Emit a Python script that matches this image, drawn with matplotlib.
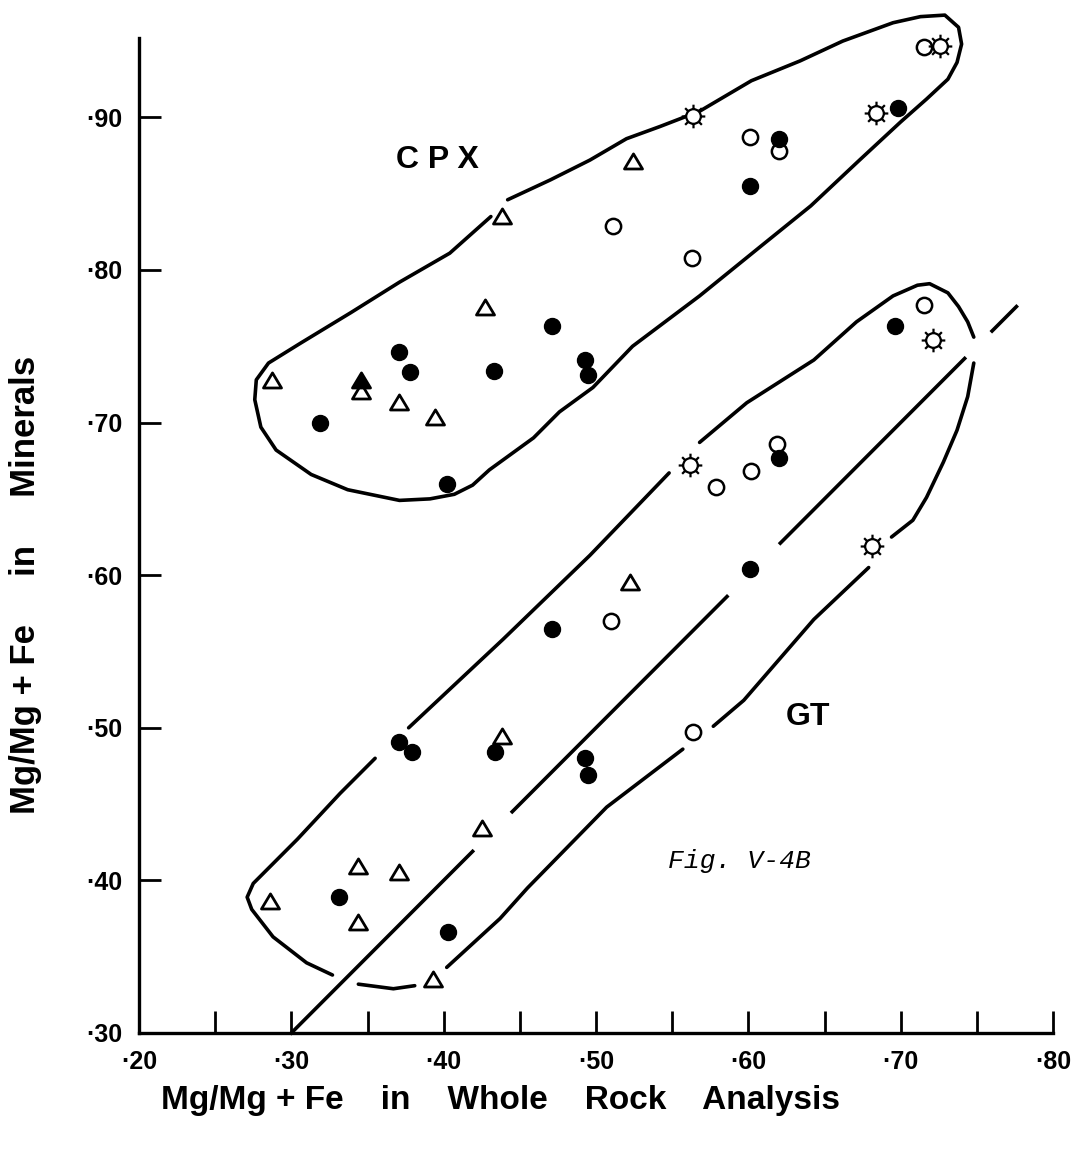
import numpy as np
import matplotlib.pyplot as plt
from matplotlib.path import Path

plt.rcParams['font.family'] = ['Liberation Sans', 'DejaVu Sans']

# Mg/(Mg+Fe): whole rock (x) against the mineral (y)
# clinopyroxene
cpx_tri_x = [.287, .346, .371, .394, .427, .438, .524]
cpx_tri_y = [.727, .720, .713, .703, .775, .835, .871]
cpx_tri_fill_x = [.346]
cpx_tri_fill_y = [.727]
cpx_dot_x = [.319, .371, .378, .402, .433, .471, .493, .495, .601, .620, .698]
cpx_dot_y = [.700, .746, .733, .660, .734, .763, .741, .731, .855, .886, .906]
cpx_ring_x = [.511, .563, .601, .620, .715]
cpx_ring_y = [.829, .808, .887, .878, .946]
cpx_sun_x = [.564, .684, .726]
cpx_sun_y = [.901, .903, .947]

# garnet
gt_tri_x = [.286, .344, .371, .344, .393, .438, .425, .522]
gt_tri_y = [.386, .409, .405, .372, .335, .494, .434, .595]
gt_dot_x = [.331, .403, .371, .379, .434, .493, .495, .471, .601, .620, .696]
gt_dot_y = [.389, .366, .491, .484, .484, .480, .469, .565, .604, .677, .763]
gt_ring_x = [.564, .510, .579, .602, .619, .715]
gt_ring_y = [.497, .570, .658, .668, .686, .777]
gt_sun_x = [.562, .681, .721]
gt_sun_y = [.672, .619, .754]

x_ticks = [.20, .30, .40, .50, .60, .70, .80]
x_minor = [.25, .35, .45, .55, .65, .75]
y_ticks = [.30, .40, .50, .60, .70, .80, .90]
x_labels = ['·20', '·30', '·40', '·50', '·60', '·70', '·80']
y_labels = ['·30', '·40', '·50', '·60', '·70', '·80', '·90']

# hand drawn field boundaries (pieces between the breaks)
cpx_field = [
    [(.442, .846), (.470, .859), (.496, .872), (.520, .886), (.542, .894),
     (.568, .904), (.602, .924), (.634, .937), (.662, .950), (.695, .962),
     (.713, .966), (.729, .967), (.738, .959), (.740, .948), (.737, .936),
     (.731, .925), (.717, .912), (.700, .897), (.673, .872), (.641, .842),
     (.610, .817), (.568, .783), (.524, .750), (.498, .723), (.476, .707),
     (.459, .690), (.430, .669), (.419, .659), (.407, .653), (.391, .650),
     (.371, .649), (.337, .656), (.313, .666), (.290, .682), (.280, .697),
     (.276, .715), (.277, .728), (.285, .739), (.306, .752), (.339, .772),
     (.371, .792), (.404, .811), (.431, .835)],
]
gt_field = [
    [(.568, .687), (.599, .713), (.643, .741), (.671, .766), (.695, .783),
     (.711, .790), (.719, .791), (.731, .785), (.738, .776), (.744, .766),
     (.748, .756)],
    [(.748, .739), (.744, .717), (.737, .695), (.728, .674), (.717, .651),
     (.708, .636), (.694, .625)],
    [(.679, .605), (.643, .571), (.597, .518), (.577, .501)],
    [(.557, .486), (.507, .448), (.455, .395), (.437, .375), (.402, .343)],
    [(.381, .331), (.367, .329), (.344, .332)],
    [(.327, .338), (.310, .346), (.288, .363), (.274, .381), (.271, .389),
     (.275, .398), (.288, .411), (.304, .427), (.332, .457), (.355, .480)],
    [(.377, .500), (.439, .558), (.496, .613), (.548, .667)],
]
# 1:1 line, drawn in broken pieces
one_to_one = [(.300, .419), (.445, .586), (.621, .742), (.760, .776)]

# sun symbol: open circle with eight rays
ang = np.linspace(0, 2 * np.pi, 8, endpoint=False)
ray_v, ray_c = [], []
for a in ang:
    ray_v += [(0.62 * np.cos(a), 0.62 * np.sin(a)), (np.cos(a), np.sin(a))]
    ray_c += [Path.MOVETO, Path.LINETO]
sun = Path.make_compound_path(Path.circle((0, 0), 0.62), Path(ray_v, ray_c))
tri = Path([(-1, -0.72), (1, -0.72), (0, 0.95), (-1, -0.72)],
           [Path.MOVETO, Path.LINETO, Path.LINETO, Path.CLOSEPOLY])

fig = plt.figure(figsize=(10.71, 11.58), dpi=100)
ax = fig.add_axes([139 / 1071, 1 - 1033 / 1158, 914 / 1071, 995 / 1158])

for piece in cpx_field + gt_field:
    px, py = zip(*piece)
    ax.plot(px, py, color='black', lw=2.6, solid_capstyle='round', zorder=2, clip_on=False)
for x0, x1 in one_to_one:
    ax.plot([x0, x1], [x0, x1], color='black', lw=2.6, zorder=2, clip_on=False)

for xs, ys in [(cpx_ring_x, cpx_ring_y), (gt_ring_x, gt_ring_y)]:
    ax.plot(xs, ys, 'o', ms=11, mfc='white', mec='black', mew=1.8, ls='none',
            zorder=3, clip_on=False)
for xs, ys in [(cpx_dot_x, cpx_dot_y), (gt_dot_x, gt_dot_y)]:
    ax.plot(xs, ys, 'o', ms=11.5, mfc='black', mec='black', ls='none',
            zorder=4, clip_on=False)
for xs, ys in [(cpx_tri_x, cpx_tri_y), (gt_tri_x, gt_tri_y)]:
    ax.plot(xs, ys, marker=tri, ms=13, mfc='white', mec='black', mew=2, ls='none',
            zorder=3, clip_on=False)
ax.plot(cpx_tri_fill_x, cpx_tri_fill_y, marker=tri, ms=13, mfc='black', mec='black',
        mew=2, ls='none', zorder=4)
for xs, ys in [(cpx_sun_x, cpx_sun_y), (gt_sun_x, gt_sun_y)]:
    ax.plot(xs, ys, marker=sun, ms=17, mfc='white', mec='black', mew=1.6, ls='none',
            zorder=5, clip_on=False)

ax.text(.396, .872, 'C P X', fontsize=23, fontweight='bold', ha='center', va='center')
ax.text(.639, .507, 'GT', fontsize=23, fontweight='bold', ha='center', va='center')
ax.text(.547, .413, 'Fig. V-4B', fontsize=19, style='italic', family='Liberation Mono',
        ha='left', va='center')

ax.set_xlim(.20, .80)
ax.set_ylim(.30, .952)
for s in ['top', 'right']:
    ax.spines[s].set_visible(False)
for s in ['left', 'bottom']:
    ax.spines[s].set_linewidth(2.4)

ax.set_xticks(x_ticks)
ax.set_xticklabels(x_labels, fontsize=18, fontweight='bold')
ax.set_xticks(x_minor, minor=True)
ax.set_yticks(y_ticks)
ax.set_yticklabels(y_labels, fontsize=18, fontweight='bold')
ax.tick_params(axis='both', which='both', direction='in', length=16, width=2)
ax.tick_params(axis='x', pad=12)
ax.tick_params(axis='y', pad=12)

ax.set_xlabel('Mg/Mg + Fe    in    Whole    Rock    Analysis', fontsize=24, fontweight='bold')
ax.set_ylabel('Mg/Mg + Fe     in     Minerals', fontsize=25, fontweight='bold')
ax.xaxis.set_label_coords(0.396, -0.052)
ax.yaxis.set_label_coords(-0.106, 0.45)

plt.savefig('out.png', dpi=100)
plt.close()
